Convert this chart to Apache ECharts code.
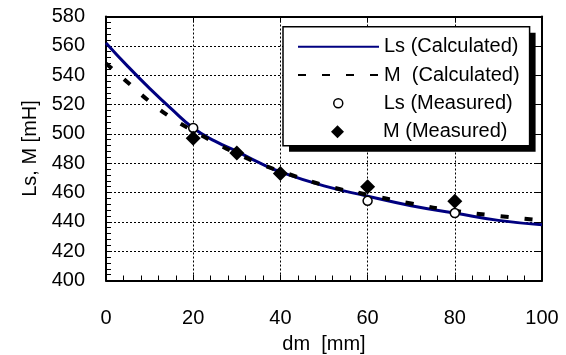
<!DOCTYPE html>
<html>
<head>
<meta charset="utf-8">
<script src="https://cdn.jsdelivr.net/npm/echarts@6/dist/echarts.min.js"></script>
<style>
  html, body { margin: 0; padding: 0; background: #fff; }
  #chart { width: 566px; height: 355px; }
</style>
</head>
<body>
<div id="chart"></div>
<script>
// dm [mm] sample points for the calculated curves
const dm = [0, 5, 10, 15, 20, 25, 30, 35, 40, 50, 60, 70, 80, 90, 100]
const lsCalc = [562, 546, 531, 517, 504, 495, 488, 480.5, 474, 464.5, 457.5, 451, 446, 441, 438]
const mCalc = [548, 535, 522, 511, 502, 494, 486.5, 480, 474.5, 465, 458.5, 452.5, 447.5, 444, 441]

// measured points
const lsMeasX = [20, 60, 80]
const lsMeas = [504, 454.3, 446]
const mMeasX = [20, 30, 40, 60, 80]
const mMeas = [497, 487, 473, 464, 454]

const xTicks = { min: 0, max: 100, interval: 20 }
const yTicks = { min: 400, max: 580, interval: 20 }
const calcNames = ['Ls (Calculated)', 'M  (Calculated)']

const font = 'Liberation Sans, Arial, sans-serif'
const pairs = (xs, ys) => xs.map((x, i) => [x, ys[i]])

const chart = echarts.init(document.getElementById('chart'), null, { renderer: 'canvas' })

const frameAxis = (extra) => Object.assign({
  type: 'value',
  axisLine: { show: true, onZero: false, lineStyle: { color: '#000', width: 2 } },
  axisTick: { show: true, inside: true, length: 6, lineStyle: { color: '#000', width: 1 } },
  axisLabel: { show: false },
  splitLine: { show: false },
}, extra)

const legendText = { fontSize: 20, color: '#000', fontFamily: font, lineHeight: 20 }

// shared box of the legend (the calculated items set its size)
const legendBox = {
  data: calcNames,
  orient: 'vertical',
  left: 283,
  top: 26.7,
  padding: [10, 10, 60.7, 14],
  itemWidth: 81,
  itemHeight: 14,
  itemGap: 8.3,
  borderRadius: 0,
  itemStyle: { opacity: 0 },
  textStyle: legendText,
  selectedMode: false,
}

chart.setOption({
  animation: false,
  textStyle: { fontFamily: font, color: '#000' },
  grid: { left: 106, right: 24, top: 16.5, bottom: 74.5, containLabel: false, outerBoundsMode: 'none' },
  xAxis: [
    frameAxis({
      ...xTicks,
      position: 'bottom',
      minorTick: { show: true, splitNumber: 5, length: 5, lineStyle: { color: '#000', width: 1 } },
      axisLabel: { show: true, fontSize: 20, color: '#000', margin: 28, fontFamily: font },
      splitLine: { show: true, lineStyle: { color: '#000', width: 1, type: [2, 2] } },
      name: 'dm  [mm]',
      nameLocation: 'middle',
      nameGap: 54,
      nameTextStyle: { fontSize: 20, color: '#000', fontFamily: font },
    }),
    frameAxis({ ...xTicks, position: 'top' }),
  ],
  yAxis: [
    frameAxis({
      ...yTicks,
      position: 'left',
      minorTick: { show: true, splitNumber: 5, length: 5, lineStyle: { color: '#000', width: 1 } },
      axisLabel: { show: true, fontSize: 20, color: '#000', margin: 21, fontFamily: font },
      splitLine: { show: true, lineStyle: { color: '#000', width: 1, type: [2, 2] } },
      name: 'Ls, M [mH]',
      nameLocation: 'middle',
      nameGap: 60,
      nameTextStyle: { fontSize: 20, color: '#000', fontFamily: font },
    }),
    frameAxis({ ...yTicks, position: 'right' }),
  ],
  legend: [
    // invisible copy: white fill + hard black drop shadow
    {
      ...legendBox,
      backgroundColor: '#fff',
      borderWidth: 0,
      shadowColor: '#000',
      shadowBlur: 0,
      shadowOffsetX: 6,
      shadowOffsetY: 6,
      lineStyle: { opacity: 0 },
      textStyle: { ...legendText, color: 'rgba(0,0,0,0)' },
    },
    {
      ...legendBox,
      backgroundColor: 'transparent',
      borderColor: '#000',
      borderWidth: 1.5,
    },
    {
      // icon sits in the middle of the 81px slot, so offset the box by the empty part
      data: ['Ls (Measured)'],
      orient: 'vertical',
      left: 297 + 36,
      top: 93.3,
      padding: 0,
      itemWidth: 81,
      itemHeight: 9,
      textStyle: legendText,
      itemStyle: { borderWidth: 1.5 },
      selectedMode: false,
    },
    {
      data: [{ name: 'M (Measured)', icon: 'path://M0,-1L1,0L0,1L-1,0Z' }],
      orient: 'vertical',
      left: 297 + 34,
      top: 121.7,
      padding: 0,
      itemWidth: 81,
      itemHeight: 13,
      symbolKeepAspect: true,
      textStyle: legendText,
      selectedMode: false,
    },
  ],
  series: [
    {
      name: 'Ls (Calculated)',
      type: 'line',
      data: pairs(dm, lsCalc),
      smooth: true,
      symbol: 'none',
      showSymbol: false,
      color: '#000080',
      lineStyle: { color: '#000080', width: 3 },
      z: 2,
    },
    {
      name: 'M  (Calculated)',
      type: 'line',
      data: pairs(dm, mCalc),
      smooth: true,
      symbol: 'none',
      showSymbol: false,
      color: '#000',
      lineStyle: { color: '#000', width: 4, type: [8, 16] },
      z: 3,
    },
    {
      name: 'Ls (Measured)',
      type: 'scatter',
      data: pairs(lsMeasX, lsMeas),
      symbol: 'circle',
      symbolSize: 9,
      itemStyle: { color: '#fff', borderColor: '#000', borderWidth: 1.5, opacity: 1 },
      z: 4,
    },
    {
      name: 'M (Measured)',
      type: 'scatter',
      data: pairs(mMeasX, mMeas),
      symbol: 'diamond',
      symbolSize: 15,
      itemStyle: { color: '#000', opacity: 1 },
      z: 5,
    },
  ],
})
</script>
</body>
</html>
